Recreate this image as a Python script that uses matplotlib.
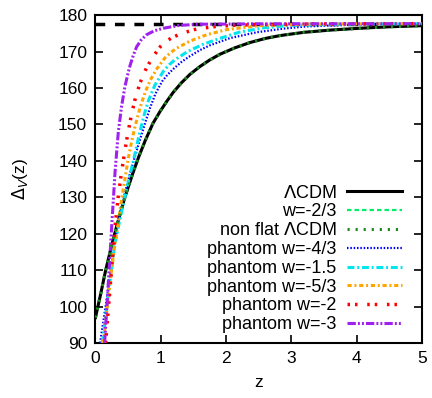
import matplotlib
matplotlib.use("Agg")
import matplotlib.pyplot as plt


# Values.
DELTA_SC = 177.65  # 18*pi^2 reference level (dashed line)

z_lcdm = [0, 0.08, 0.15, 0.25, 0.334, 0.45, 0.57, 0.66, 0.76, 0.88, 0.99, 1.09, 1.19, 1.32, 1.45, 1.6, 1.75,
          1.91, 2.13, 2.37, 2.6, 2.83, 3.2, 3.6, 4.05, 4.5, 5]
d_lcdm = [97, 103.5, 109.5, 117, 122.7, 130, 136.5, 141, 145.5, 150.3, 153.6, 156.3, 158.8, 161.5, 163.8, 165.9,
          167.7, 169.3, 171, 172.5, 173.6, 174.4, 175.3, 175.9, 176.4, 176.8, 177.1]

# w=-2/3 and non flat LCDM lie on top of the LCDM curve
z_w23 = list(z_lcdm)
d_w23 = list(d_lcdm)
z_nonflat = list(z_lcdm)
d_nonflat = list(d_lcdm)

z_w43 = [0.07, 0.18, 0.26, 0.33, 0.42, 0.52, 0.65, 0.78, 0.835, 0.92, 1.02, 1.1, 1.19, 1.32, 1.45, 1.6, 1.75,
         2.06, 2.47, 2.88, 3.23, 4, 5]
d_w43 = [90, 103, 113.5, 121, 129, 136, 144, 151.5, 154.5, 158.5, 161.8, 163.6, 165.2, 167.2, 168.8, 170.4,
         171.7, 173.7, 175.3, 176.3, 176.9, 177.4, 177.6]

z_w15 = [0.105, 0.2, 0.3, 0.375, 0.43, 0.5, 0.58, 0.655, 0.74, 0.81, 0.91, 1.04, 1.13, 1.22, 1.42, 1.65, 1.9,
         2.2, 2.57, 3.0, 3.8, 5]
d_w15 = [90, 104, 117.5, 124, 128.5, 134, 140, 146, 152.3, 156.5, 160.8, 164.6, 166.4, 167.8, 170.1, 172,
         173.6, 175.3, 176.5, 177.2, 177.5, 177.65]

z_w53 = [0.12, 0.2, 0.28, 0.35, 0.41, 0.46, 0.5, 0.55, 0.6, 0.68, 0.76, 0.84, 0.94, 1.06, 1.15, 1.24, 1.45,
         1.7, 2.0, 2.5, 3.2, 4, 5]
d_w53 = [90, 103, 115, 123.5, 130.5, 136, 140.5, 145, 149, 154.5, 158.8, 162.2, 165.3, 168.2, 169.7, 170.9,
         172.9, 174.6, 176, 177.1, 177.5, 177.6, 177.65]

z_w2 = [0.155, 0.2, 0.25, 0.3, 0.35, 0.4, 0.45, 0.5, 0.55, 0.6, 0.68, 0.78, 0.88, 1.0, 1.08, 1.17, 1.32, 1.55,
        1.8, 2.1, 2.5, 3.5, 5]
d_w2 = [90, 100, 111, 122, 130.5, 137, 142.8, 148, 152.6, 156.5, 161.3, 165.5, 168.6, 171.5, 172.8, 173.8,
        175, 176.2, 176.8, 177.2, 177.4, 177.6, 177.65]

z_w3 = [0.14, 0.2, 0.25, 0.3, 0.35, 0.4, 0.45, 0.5, 0.53, 0.58, 0.63, 0.7, 0.78, 0.9, 1.04, 1.29, 1.6, 2.5, 5]
d_w3 = [90, 107.5, 122.5, 137, 148, 155, 160.3, 164.2, 166.2, 169, 171.3, 173.2, 174.6, 175.7, 176.4, 177.2,
        177.5, 177.6, 177.65]


def draw_chart() -> None:
    """
    Draw Delta_V(z) for the different dark energy models and save it to out.png.
    """

    plt.rcParams["font.family"] = ["Liberation Sans", "DejaVu Sans"]
    plt.rcParams["mathtext.fontset"] = "dejavusans"
    plt.rcParams["lines.scale_dashes"] = False

    fig = plt.figure(figsize=(4.32, 3.98), dpi=100)
    ax = fig.add_axes([0.221, 0.138, 0.756, 0.824])

    # Reference level
    ax.axhline(DELTA_SC, color="black", lw=2.5, dashes=(7, 7), zorder=1)

    # Step 1: curves (w=-2/3 hidden below LCDM, non flat dotted on top).
    ax.plot(z_w23, d_w23, color="#00ee66", lw=1.6, dashes=(3.2, 2.2), label="w=-2/3", zorder=2)
    ax.plot(z_lcdm, d_lcdm, color="black", lw=2.2, label=r"$\Lambda$CDM", zorder=3)
    ax.plot(z_nonflat, d_nonflat, color="#228b22", lw=2.2, dashes=(1.6, 4.2),
            label=r"non flat $\Lambda$CDM", zorder=4)
    ax.plot(z_w43, d_w43, color="#0000ff", lw=1.6, dashes=(1.1, 1.3), label="phantom w=-4/3", zorder=3)
    ax.plot(z_w15, d_w15, color="#00e5ee", lw=2.2, dashes=(5, 2, 1.4, 2), label="phantom w=-1.5", zorder=3)
    ax.plot(z_w53, d_w53, color="#ffa500", lw=2.2, dashes=(3, 2, 1.4, 2), label="phantom w=-5/3", zorder=3)
    ax.plot(z_w2, d_w2, color="#ff0000", lw=2.5, dashes=(1.8, 3.6, 1.8, 7), label="phantom w=-2", zorder=3)
    ax.plot(z_w3, d_w3, color="#a020f0", lw=2.2, dashes=(6, 1.5, 1.4, 1.5, 1.4, 1.5),
            label="phantom w=-3", zorder=3)

    # Step 2: axes, ticks and labels in gnuplot fashion.
    ax.set_xlim(0, 5)
    ax.set_ylim(90, 180)
    ax.set_xticks(range(0, 6))
    ax.set_yticks(range(90, 181, 10))
    ax.tick_params(direction="in", length=6, width=1.2, top=True, right=True,
                   labelsize=12.5, pad=6)
    for spine in ax.spines.values():
        spine.set_linewidth(1.5)
    ax.set_xlabel("z", fontsize=12.5, labelpad=6)
    ax.set_ylabel(r"$\Delta_V$(z)", fontsize=12.5, labelpad=20)

    handles, labels = ax.get_legend_handles_labels()
    order = [1, 0, 2, 3, 4, 5, 6, 7]
    ax.legend([handles[i] for i in order], [labels[i] for i in order],
              loc="lower right", bbox_to_anchor=(0.94, 0.03), frameon=False,
              markerfirst=False, fontsize=13, handlelength=3.05, handletextpad=0.6,
              labelspacing=0.1, borderpad=0, borderaxespad=0)

    fig.savefig("out.png", dpi=100)


def main() -> None:
    draw_chart()


if __name__ == "__main__":
    main()
